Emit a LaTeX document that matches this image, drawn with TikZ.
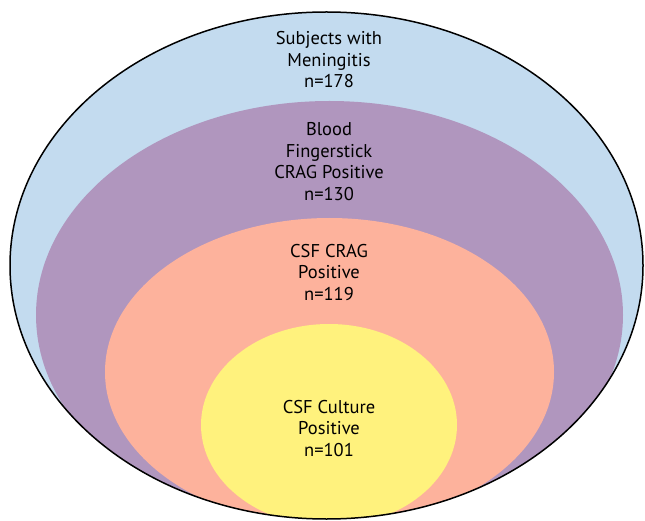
\documentclass[tikz,border=0pt]{standalone}
\usepackage{fontspec}
\setmainfont{PT Sans}
\definecolor{meningblue}{RGB}{195,219,239}
\definecolor{bloodpurple}{RGB}{176,150,190}
\definecolor{cragsalmon}{RGB}{253,178,156}
\definecolor{cultureyellow}{RGB}{255,242,125}

\begin{document}
\begin{tikzpicture}[x=1pt, y=-1pt,
  ringtext/.style={align=center, font=\fontsize{18.5}{21.5}\selectfont}]

  \useasboundingbox (0,0) rectangle (645,521);

  % Draw outer ellipse
  \fill[meningblue] (326.5,265.5) ellipse [x radius=316.5, y radius=253.5];

  % Draw inner ellipses, cut by the outer one
  \begin{scope}
    \clip (326.5,265.5) ellipse [x radius=316.5, y radius=253.5];
    \fill[bloodpurple] (329.5,315) ellipse [x radius=293.5, y radius=214];
    \fill[cragsalmon] (329.5,372) ellipse [x radius=224.5, y radius=154];
    \fill[cultureyellow] (329,425) ellipse [x radius=128, y radius=101];
  \end{scope}

  % Outline
  \draw[line width=1.5] (326.5,265.5) ellipse [x radius=316.5, y radius=253.5];

  % Label the rings
  \node[ringtext] (meningitis) at (329,60) {Subjects with\\Meningitis\\n=178};
  \node[ringtext] (fingerstick) at (329,161.5) {Blood\\Fingerstick\\CRAG Positive\\n=130};
  \node[ringtext] (csfcrag) at (329,272.5) {CSF CRAG\\Positive\\n=119};
  \node[ringtext] (culture) at (329,428.5) {CSF Culture\\Positive\\n=101};

\end{tikzpicture}
\end{document}
